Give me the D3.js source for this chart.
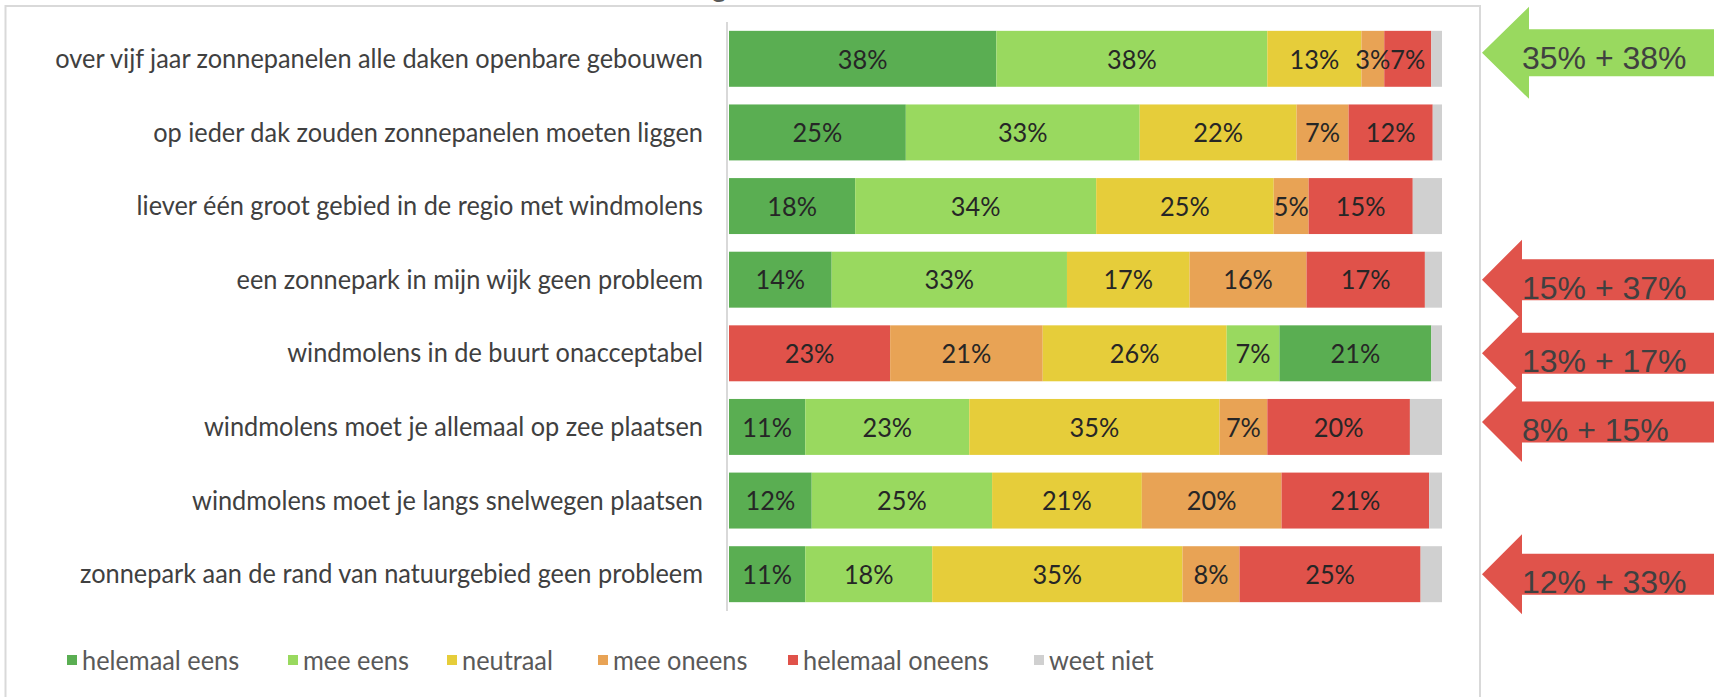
<!DOCTYPE html>
<html>
<head>
<meta charset="utf-8">
<script src="https://cdn.jsdelivr.net/npm/d3@7"></script>
<style>
  body { margin: 0; background: #fff; }
  svg text.cal { font-family: Lato, "Open Sans", sans-serif; }
</style>
</head>
<body>
<div id="chart"></div>
<script>
var statements = [
  "over vijf jaar zonnepanelen alle daken openbare gebouwen",
  "op ieder dak zouden zonnepanelen moeten liggen",
  "liever één groot gebied in de regio met windmolens",
  "een zonnepark in mijn wijk geen probleem",
  "windmolens in de buurt onacceptabel",
  "windmolens moet je allemaal op zee plaatsen",
  "windmolens moet je langs snelwegen plaatsen",
  "zonnepark aan de rand van natuurgebied geen probleem"
];
var answers = ["helemaal eens", "mee eens", "neutraal", "mee oneens", "helemaal oneens", "weet niet"];

// percentages per answer, one value per statement
var helemaalEens   = [37.5, 24.8, 17.7, 14.4, 21.3, 10.7, 11.6, 10.7];
var meeEens        = [38.0, 32.8, 33.8, 33.0,  7.4, 23.0, 25.3, 17.8];
var neutraal       = [13.2, 22.0, 24.9, 17.2, 25.8, 35.1, 21.0, 35.1];
var meeOneens      = [ 3.2,  7.3,  4.9, 16.4, 21.4,  6.7, 19.6,  8.0];
var helemaalOneens = [ 6.6, 11.8, 14.6, 16.6, 22.6, 20.0, 20.7, 25.4];
var weetNiet       = [ 1.5,  1.3,  4.1,  2.4,  1.5,  4.5,  1.8,  3.0];

// negative statement: the scale runs the other way
var reversedRows = [false, false, false, false, true, false, false, false];

var callouts = [
  {row: 0, text: "35% + 38%", kind: "pos"},
  {row: 3, text: "15% + 37%", kind: "neg"},
  {row: 4, text: "13% + 17%", kind: "neg"},
  {row: 5, text: "8% + 15%", kind: "neg"},
  {row: 7, text: "12% + 33%", kind: "neg"}
];

var colors = ["#5aae52", "#99d95f", "#e6cd3a", "#e8a355", "#e0524a", "#d0d0d0"];

var width = 1714, height = 697;
var fontSize = 27;
var series = [helemaalEens, meeEens, neutraal, meeOneens, helemaalOneens, weetNiet];

var svg = d3.select("#chart").append("svg")
    .attr("width", width)
    .attr("height", height);

// chart frame
svg.append("rect")
    .attr("x", 5.5).attr("y", 6)
    .attr("width", 1474.5).attr("height", height + 10)
    .attr("fill", "#fff")
    .attr("stroke", "#d9d9d9")
    .attr("stroke-width", 2);

// squeeze factor so the sans font runs as narrow as the original (Calibri-ish)
var probe = svg.append("text").attr("class", "cal").attr("font-size", fontSize).text(statements[0]);
var k = 648 / probe.node().getComputedTextLength();
probe.remove();

// remains of the title cut off at the top
svg.append("text")
    .attr("class", "cal")
    .attr("transform", "translate(712,-3) scale(" + k + ",1)")
    .attr("font-size", 29)
    .attr("font-weight", "bold")
    .attr("fill", "#595959")
    .text("g");

var x = d3.scaleLinear().domain([0, 100]).range([729, 1442]);
var y = d3.scaleBand().domain(d3.range(statements.length)).range([22, 611]).paddingInner(0.24).paddingOuter(0.12);

// build stacked segments
var segs = [];
statements.forEach(function(s, i) {
  var order = reversedRows[i] ? [4, 3, 2, 1, 0, 5] : [0, 1, 2, 3, 4, 5];
  var acc = 0;
  order.forEach(function(j) {
    var v = series[j][i];
    segs.push({row: i, k: j, x0: acc, x1: acc + v, v: v});
    acc += v;
  });
});

var g = svg.append("g");
g.selectAll("rect.seg")
  .data(segs)
  .enter().append("rect")
    .attr("class", "seg")
    .attr("x", function(d) { return x(d.x0); })
    .attr("y", function(d) { return y(d.row); })
    .attr("width", function(d) { return x(d.x1) - x(d.x0); })
    .attr("height", y.bandwidth())
    .attr("fill", function(d) { return colors[d.k]; });

g.selectAll("text.val")
  .data(segs.filter(function(d) { return d.k != 5; }))
  .enter().append("text")
    .attr("class", "val cal")
    .attr("transform", function(d) {
      return "translate(" + (x(d.x0) + x(d.x1)) / 2 + "," + (y(d.row) + y.bandwidth() / 2) + ") scale(" + k + ",1)";
    })
    .attr("dy", "0.36em")
    .attr("text-anchor", "middle")
    .attr("font-size", fontSize)
    .attr("fill", "#262626")
    .text(function(d) { return Math.round(d.v) + "%"; });

// category axis
var yAxis = d3.axisLeft(d3.scalePoint().domain(statements).range([y(0) + y.bandwidth() / 2, y(7) + y.bandwidth() / 2]))
    .tickSize(0).tickPadding(0);
var ax = svg.append("g")
    .attr("transform", "translate(703,0)")
    .call(yAxis);
ax.select(".domain").remove();
ax.selectAll("text")
    .attr("class", "cal")
    .attr("x", 0)
    .attr("transform", "scale(" + k + ",1)")
    .attr("font-size", fontSize)
    .attr("fill", "#404040")
    .style("font-family", null);
ax.attr("font-family", null).attr("font-size", null);
svg.append("line")
    .attr("x1", 727).attr("x2", 727)
    .attr("y1", y.range()[0]).attr("y2", y.range()[1])
    .attr("stroke", "#d9d9d9")
    .attr("stroke-width", 2);

// legend
var legendX = [67, 288, 447, 598, 788, 1034];
var leg = svg.selectAll("g.leg")
  .data(answers)
  .enter().append("g")
    .attr("class", "leg")
    .attr("transform", function(d, i) { return "translate(" + legendX[i] + ",660)"; });
leg.append("rect")
    .attr("x", 0).attr("y", -5)
    .attr("width", 10).attr("height", 10)
    .attr("fill", function(d, i) { return colors[i]; });
leg.append("text")
    .attr("class", "cal")
    .attr("transform", "translate(15,0) scale(" + k + ",1)")
    .attr("dy", "0.36em")
    .attr("font-size", fontSize)
    .attr("fill", "#595959")
    .text(function(d) { return d; });

// arrows on the right
var nudge = {0: -6, 5: -5};
var arrow = svg.selectAll("g.arrow")
  .data(callouts)
  .enter().append("g")
    .attr("class", "arrow")
    .attr("transform", function(d) {
      var cy = y(d.row) + y.bandwidth() / 2 + (nudge[d.row] || 0);
      return "translate(1482," + cy + ")";
    });
arrow.append("path")
    .attr("d", function(d) {
      var hl = d.kind == "pos" ? 47 : 40, hh = d.kind == "pos" ? 46 : 40, sh = d.kind == "pos" ? 23.5 : 20.5;
      return "M0,0L" + hl + "," + (-hh) + "L" + hl + "," + (-sh) + "L260," + (-sh) +
             "L260," + sh + "L" + hl + "," + sh + "L" + hl + "," + hh + "Z";
    })
    .attr("fill", function(d) { return d.kind == "pos" ? "#99d95f" : "#e0534b"; });
arrow.append("text")
    .attr("x", 40)
    .attr("y", function(d) { return d.kind == "pos" ? 16 : 19; })
    .attr("font-size", 32)
    .attr("fill", "#404040")
    .style("font-family", "'Liberation Sans', Arial, sans-serif")
    .text(function(d) { return d.text; });
</script>
</body>
</html>
